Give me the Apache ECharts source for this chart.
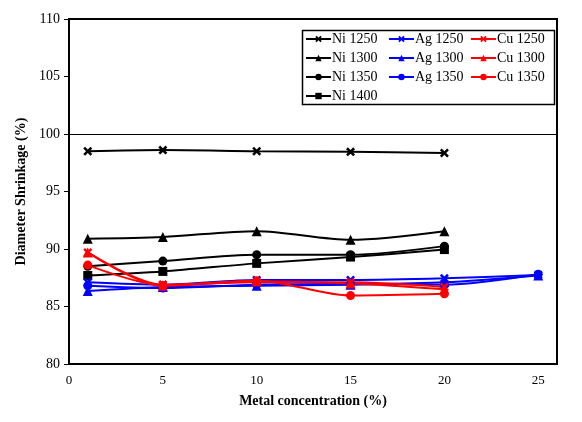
<!DOCTYPE html>
<html>
<head>
<meta charset="utf-8">
<script src="https://cdn.jsdelivr.net/npm/echarts@6/dist/echarts.min.js"></script>
<style>html,body{margin:0;padding:0;background:#fff}#c{width:582px;height:422px}</style>
</head>
<body>
<div id="c"></div>
<script>
const xNi = [1, 5, 10, 15, 20];
const xAg = [1, 5, 10, 15, 20, 25];
const xCu = [1, 5, 10, 15, 20];
const ni1250 = [98.5, 98.6, 98.5, 98.45, 98.35];
const ni1300 = [90.9, 91.05, 91.55, 90.8, 91.55];
const ni1350 = [88.5, 88.95, 89.5, 89.5, 90.25];
const ni1400 = [87.7, 88.05, 88.75, 89.3, 89.95];
const ag1250 = [87.1, 86.9, 87.3, 87.3, 87.45, 87.75];
const ag1300 = [86.35, 86.7, 86.8, 86.9, 87.1, 87.7];
const ag1350 = [86.8, 86.6, 86.9, 86.95, 86.9, 87.8];
const cu1250 = [89.7, 86.9, 87.1, 87.1, 86.7];
const cu1300 = [89.7, 86.8, 87.2, 87.0, 86.5];
const cu1350 = [88.6, 86.85, 87.25, 85.95, 86.1];
const refLine = 100;

const X_SYM = 'path://M0,2 L2,0 L5,3 L8,0 L10,2 L7,5 L10,8 L8,10 L5,7 L2,10 L0,8 L3,5 Z';
const FONT = '"Liberation Serif", "Times New Roman", serif';

function pairs(xs, ys) { return ys.map((v, i) => [xs[i], v]); }
function mk(name, xs, ys, color, symbol, size) {
  return {
    name, type: 'line', data: pairs(xs, ys), smooth: 0.3,
    symbol, symbolSize: size,
    lineStyle: { color, width: 2 }, itemStyle: { color },
    emphasis: { disabled: true }
  };
}
const series = [
  mk('Ni 1250', xNi, ni1250, '#000', X_SYM, 9),
  mk('Ni 1300', xNi, ni1300, '#000', 'triangle', 10),
  mk('Ni 1350', xNi, ni1350, '#000', 'circle', 9),
  mk('Ni 1400', xNi, ni1400, '#000', 'rect', 9),
  mk('Ag 1250', xAg, ag1250, '#0000ff', X_SYM, 9),
  mk('Ag 1300', xAg, ag1300, '#0000ff', 'triangle', 10),
  mk('Ag 1350', xAg, ag1350, '#0000ff', 'circle', 9),
  mk('Cu 1250', xCu, cu1250, '#ff0000', X_SYM, 9),
  mk('Cu 1300', xCu, cu1300, '#ff0000', 'triangle', 10),
  mk('Cu 1350', xCu, cu1350, '#ff0000', 'circle', 9)
];
series[0].markLine = {
  silent: true, symbol: 'none', label: { show: false },
  lineStyle: { color: '#000', width: 1, type: 'solid' },
  data: [{ yAxis: refLine }]
};

function legendCol(names, left) {
  return {
    data: names, orient: 'vertical', left, top: 31, itemGap: 3,
    itemWidth: 25, itemHeight: 8, padding: 0,
    textStyle: { fontFamily: FONT, fontSize: 14, color: '#000', padding: [0, 0, 0, -4], lineHeight: 16 },
    selectedMode: false
  };
}

const chart = echarts.init(document.getElementById('c'));
chart.setOption({
  animation: false,
  backgroundColor: '#fff',
  grid: { left: 69, right: 25, top: 19, bottom: 58, show: true, borderColor: '#000', borderWidth: 2 },
  legend: [
    legendCol(['Ni 1250', 'Ni 1300', 'Ni 1350', 'Ni 1400'], 305),
    legendCol(['Ag 1250', 'Ag 1300', 'Ag 1350'], 388),
    legendCol(['Cu 1250', 'Cu 1300', 'Cu 1350'], 470)
  ],
  graphic: [{
    type: 'rect', left: 300, top: 28, shape: { width: 252, height: 74 },
    style: { fill: 'none', stroke: '#000', lineWidth: 1.5 }, silent: true
  }],
  xAxis: {
    type: 'value', min: 0, max: 26, interval: 5,
    name: 'Metal concentration (%)', nameLocation: 'middle', nameGap: 30,
    nameTextStyle: { fontFamily: FONT, fontSize: 14, fontWeight: 'bold', color: '#000' },
    axisLine: { show: true, lineStyle: { color: '#000', width: 2 } },
    axisTick: { show: false },
    axisLabel: { fontFamily: FONT, fontSize: 13, color: '#000', margin: 10, showMaxLabel: false },
    splitLine: { show: false }
  },
  yAxis: {
    type: 'value', min: 80, max: 110, interval: 5,
    name: 'Diameter Shrinkage (%)', nameLocation: 'middle', nameGap: 40,
    nameTextStyle: { fontFamily: FONT, fontSize: 14, fontWeight: 'bold', color: '#000' },
    axisLine: { show: true, lineStyle: { color: '#000', width: 2 } },
    axisTick: { show: true, inside: false, length: 5, lineStyle: { color: '#000' } },
    axisLabel: { fontFamily: FONT, fontSize: 14, color: '#000', margin: 9 },
    splitLine: { show: false }
  },
  series
});
</script>
</body>
</html>
